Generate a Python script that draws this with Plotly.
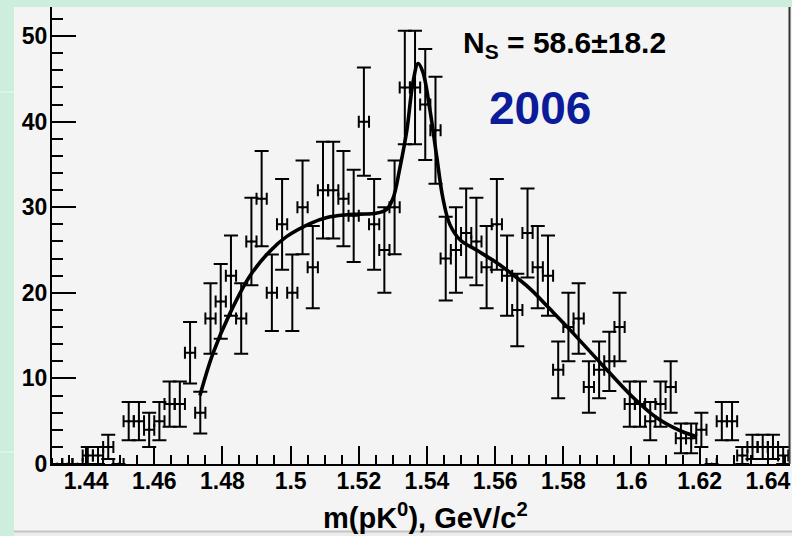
import numpy as np
import plotly.graph_objects as go

# ---------------- data ----------------
bin_lo = 1.430
bin_w = 0.003
counts = [0, 0, 0, 1, 1, 2, 0, 5, 5, 4, 5, 7, 7, 13, 6, 17, 19, 22, 17, 26,
          31, 20, 28, 20, 30, 23, 32, 32, 31, 29, 40, 28, 25, 30, 44, 44, 42, 39, 24, 25,
          27, 26, 23, 28, 22, 18, 27, 23, 22, 11, 16, 17, 9, 11, 12, 16, 7, 7, 5, 7,
          9, 3, 3, 4, 0, 5, 5, 1, 2, 2, 2, 1]
centers = [bin_lo + bin_w * (i + 0.5) for i in range(len(counts))]
errors = [float(np.sqrt(c)) for c in counts]

fit_m = [1.4734, 1.4772, 1.4822, 1.4881, 1.4940, 1.4989, 1.5057, 1.5107, 1.5160, 1.5204,
         1.5250, 1.5280, 1.5300, 1.5321, 1.5341, 1.5359, 1.5374, 1.5388, 1.5409, 1.5429,
         1.5447, 1.5467, 1.5497, 1.5545, 1.5594, 1.5643, 1.5702, 1.5761, 1.5819, 1.5907,
         1.6004, 1.6074, 1.6142, 1.6192]
fit_v = [8.0, 12.9, 17.6, 22.0, 24.9, 26.6, 28.1, 28.8, 29.1, 29.2,
         29.3, 29.7, 31.0, 34.7, 39.0, 44.6, 46.8, 45.8, 41.3, 35.8,
         31.0, 28.0, 26.2, 25.0, 23.8, 22.4, 20.5, 18.1, 15.7, 11.9,
         7.8, 5.4, 3.9, 3.2]

x_ticks = [1.44, 1.46, 1.48, 1.5, 1.52, 1.54, 1.56, 1.58, 1.6, 1.62, 1.64]
x_tick_text = ["1.44", "1.46", "1.48", "1.5", "1.52", "1.54", "1.56", "1.58", "1.6", "1.62", "1.64"]
y_ticks = [0, 10, 20, 30, 40, 50]

# ---------------- layout geometry ----------------
W, H = 792, 536
L, R, T, B = 52, 790, 7, 464


def xp(px):
    return (px - L) / (R - L)


def yp(py):
    return (B - py) / (B - T)


FONT = "Liberation Sans, Arial, Helvetica, sans-serif"

fig = go.Figure()

fig.add_trace(go.Scatter(
    x=centers, y=counts, mode="markers",
    marker=dict(size=3, color="black"),
    error_y=dict(type="data", array=errors, color="black", thickness=2, width=7),
    error_x=dict(type="constant", value=bin_w / 2, color="black", thickness=2, width=6),
    cliponaxis=False, hoverinfo="skip", showlegend=False,
))

fig.add_trace(go.Scatter(
    x=fit_m, y=fit_v, mode="lines",
    line=dict(color="black", width=3.6, shape="spline", smoothing=1.0),
    hoverinfo="skip", showlegend=False,
))

shapes = [
    # grey panel
    dict(type="rect", xref="paper", yref="paper", x0=xp(14), x1=xp(800), y0=yp(531), y1=yp(7),
         fillcolor="#f4f4f4", line=dict(width=0), layer="below"),
    # bottom strip
    dict(type="rect", xref="paper", yref="paper", x0=xp(14), x1=xp(800), y0=yp(540), y1=yp(531),
         fillcolor="#ececec", line=dict(width=0), layer="below"),
    dict(type="line", xref="paper", yref="paper", x0=xp(14), x1=xp(800), y0=yp(531.5), y1=yp(531.5),
         line=dict(color="#c4c4c4", width=2), layer="below"),
    # faint lines in green strip
    dict(type="line", xref="paper", yref="paper", x0=xp(0), x1=xp(14), y0=yp(92), y1=yp(92),
         line=dict(color="#dcf4e7", width=2), layer="below"),
    dict(type="line", xref="paper", yref="paper", x0=xp(0), x1=xp(14), y0=yp(452), y1=yp(452),
         line=dict(color="#dcf4e7", width=2), layer="below"),
    # right frame line
    dict(type="line", xref="paper", yref="paper", x0=xp(789.5), x1=xp(789.5), y0=0, y1=1,
         line=dict(color="#333333", width=2), layer="above"),
]

annotations = [
    dict(text="<b>N<sub>S</sub> = 58.6±18.2</b>", xref="paper", yref="paper",
         x=xp(461), y=yp(45), xanchor="left", yanchor="middle", showarrow=False,
         font=dict(family=FONT, size=30, color="black")),
    dict(text="<b>2006</b>", xref="paper", yref="paper",
         x=xp(540), y=yp(108), xanchor="center", yanchor="middle", showarrow=False,
         font=dict(family=FONT, size=46, color="#0b1b99")),
    dict(text="<b>m(pK<sup>0</sup>), GeV/c<sup>2</sup></b>", xref="paper", yref="paper",
         x=xp(425), y=yp(516), xanchor="center", yanchor="middle", showarrow=False,
         font=dict(family=FONT, size=29, color="black")),
]

fig.update_layout(
    width=W, height=H,
    margin=dict(l=L, r=W - R, t=T, b=H - B),
    paper_bgcolor="#cdeedc",
    plot_bgcolor="#f4f4f4",
    shapes=shapes,
    annotations=annotations,
    showlegend=False,
    xaxis=dict(
        range=[1.430, 1.6465], tickmode="array", tickvals=x_ticks, ticktext=x_tick_text,
        ticks="inside", ticklen=18, tickwidth=2, tickcolor="black",
        minor=dict(dtick=0.005, tick0=1.44, ticks="inside", ticklen=9, tickwidth=2, tickcolor="black"),
        showline=True, linecolor="black", linewidth=2, showgrid=False, zeroline=False,
        tickfont=dict(family=FONT, size=23, color="black", weight="bold"),
        ticklabelstandoff=-5,
    ),
    yaxis=dict(
        range=[0, 53.4], tickmode="array", tickvals=y_ticks,
        ticks="inside", ticklen=24, tickwidth=2, tickcolor="black",
        minor=dict(dtick=2, tick0=0, ticks="inside", ticklen=11, tickwidth=2, tickcolor="black"),
        showline=True, linecolor="black", linewidth=2, showgrid=False, zeroline=False,
        tickfont=dict(family=FONT, size=23, color="black", weight="bold"),
        ticklabelstandoff=-2,
    ),
)

fig.write_html("out.html")
